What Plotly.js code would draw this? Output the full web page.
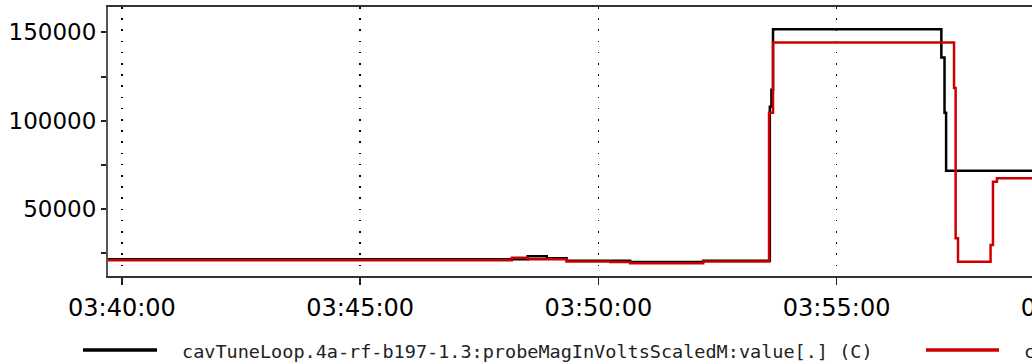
<!DOCTYPE html>
<html>
<head>
<meta charset="utf-8">
<script src="https://cdn.plot.ly/plotly-3.0.1.min.js"></script>
<style>
html,body{margin:0;padding:0;overflow:hidden;background:#fff;width:1032px;height:364px;}
#chart{width:1190px;height:364px;}
</style>
</head>
<body>
<div id="chart"></div>
<script>
// ---- data ----
const DAY = "2024-01-01 ";
const seriesNames = [
  "cavTuneLoop.4a-rf-b197-1.3:probeMagInVoltsScaledM:value[.] (C)",
  "cavTuneLoop.4a-rf-b197-1.4:probeMagInVoltsScaledM:value[.] (C)"
];
const blackTimes = ["03:39:30","03:47:56","03:48:31","03:48:55","03:49:20","03:50:40","03:52:12",
  "03:53:36","03:53:38","03:53:40","03:57:12","03:57:16","03:57:18","04:02:30"];
const blackValues = [21700,21700,23400,22200,20800,20100,20900,
  108000,117600,151800,135800,104500,71800,71800];
const redTimes = ["03:39:30","03:47:56","03:48:11","03:48:31","03:48:55","03:49:20","03:50:15","03:50:40","03:52:12",
  "03:53:35","03:53:40","03:57:28","03:57:30","03:57:33","03:58:14","03:58:17","03:58:22","04:02:30"];
const redValues = [21100,21100,22600,21700,21700,20400,20200,19400,20500,
  104500,144300,118500,33600,20300,29800,65600,67500,67500];
const xRange = ["03:39:42.4","04:02:00"];
const yRange = [12230,164380];
const yMajorTicks = [50000,100000,150000];

// ---- layout helpers (pixel geometry) ----
const W = 1190, H = 364;
const M = {l:108, r:20, t:7, b:88};
const PW = W - M.l - M.r, PH = H - M.t - M.b;
const px = x => (x - M.l) / PW;
const py = y => (H - M.b - y) / PH;

const colors = ["#000000","#cc0000"];
const traces = [
  {x: blackTimes.map(t=>DAY+t), y: blackValues, name: seriesNames[0], mode:"lines",
   line:{color:colors[0], width:2.5, shape:"hv"}},
  {x: redTimes.map(t=>DAY+t), y: redValues, name: seriesNames[1], mode:"lines",
   line:{color:colors[1], width:2.5, shape:"hv"}}
];

const legY = 350;
const legendItems = [{x0:83,x1:157,tx:180},{x0:926,x1:999,tx:1022}];
const shapes = legendItems.map((it,i)=>({type:"line", xref:"paper", yref:"paper",
  x0:px(it.x0), x1:px(it.x1), y0:py(legY), y1:py(legY), line:{color:colors[i], width:3.5}}));
const annotations = legendItems.map((it,i)=>({xref:"paper", yref:"paper", x:px(it.tx), y:py(legY+1),
  xanchor:"left", yanchor:"middle", showarrow:false, text:seriesNames[i],
  font:{family:"DejaVu Sans Mono", size:18.5, color:"#222"}}));

const layout = {
  width:W, height:H, margin:M, showlegend:false,
  paper_bgcolor:"#fff", plot_bgcolor:"#fff",
  xaxis:{type:"date", range:xRange.map(t=>DAY+t), tickformat:"%H:%M:%S",
    dtick:300000, tick0:DAY+"03:40:00",
    showgrid:true, gridcolor:"#000", gridwidth:1.5, griddash:"1.5px,9.7px",
    showline:true, linecolor:"#333", linewidth:2, mirror:true,
    ticks:"outside", ticklen:7, tickwidth:1.5, tickcolor:"#222", ticklabelstandoff:2,
    tickfont:{family:"DejaVu Sans", size:24, color:"#000"}, zeroline:false, fixedrange:true},
  yaxis:{range:yRange, tickvals:yMajorTicks, tickformat:"d", showgrid:false, zeroline:false,
    showline:true, linecolor:"#555", linewidth:2, mirror:true,
    ticks:"outside", ticklen:5, tickwidth:2, tickcolor:"#222",
    minor:{dtick:25000, tick0:0, ticks:"outside", ticklen:5, tickwidth:2, tickcolor:"#222", showgrid:false},
    tickfont:{family:"DejaVu Sans", size:23, color:"#000"}, fixedrange:true},
  shapes:shapes, annotations:annotations
};
Plotly.newPlot("chart", traces, layout, {staticPlot:true, displayModeBar:false});
</script>
</body>
</html>
